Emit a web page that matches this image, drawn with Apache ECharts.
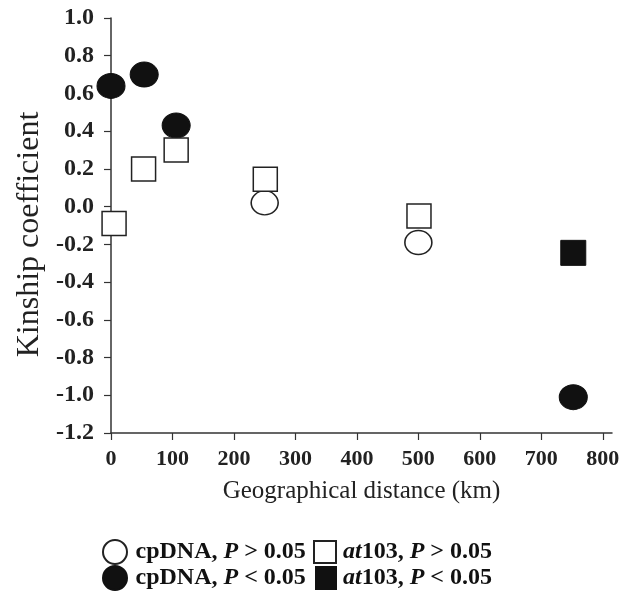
<!DOCTYPE html>
<html>
<head>
<meta charset="utf-8">
<script src="https://cdn.jsdelivr.net/npm/echarts@6/dist/echarts.min.js"></script>
<style>
  html, body { margin: 0; padding: 0; background: #fff; }
  #chart { width: 632px; height: 600px; }
</style>
</head>
<body>
<div id="chart"></div>
<script>
// cpDNA, not significant (open circles)
const cpOpenX = [250, 500]
const cpOpenY = [0.02, -0.19]
// cpDNA, significant (filled circles)
const cpFilledX = [0, 54, 106, 752]
const cpFilledY = [0.64, 0.70, 0.43, -1.01]
// at103, not significant (open squares)
const atOpenX = [5, 53, 106, 251, 501]
const atOpenY = [-0.09, 0.20, 0.30, 0.145, -0.05]
// at103, significant (filled square)
const atFilledX = [752]
const atFilledY = [-0.245]

const xTicks = [0, 100, 200, 300, 400, 500, 600, 700, 800]
const seriesNames = ['cpDNA, P > 0.05', 'cpDNA, P < 0.05', 'at103, P > 0.05', 'at103, P < 0.05']

const font = 'Liberation Serif'
const pair = (xs, ys) => xs.map((x, i) => [x, ys[i]])

// legend labels with italic P and at
const legendLabel = name => {
  const [gene, rest] = name.split(', P ')
  const g = gene === 'at103' ? '{i|at}{b|103, }' : '{b|cpDNA, }'
  return g + '{i|P}{b| ' + rest + '}'
}
const legendRich = {
  b: { fontFamily: font, fontWeight: 'bold', fontSize: 24, color: '#111' },
  i: { fontFamily: font, fontWeight: 'bold', fontStyle: 'italic', fontSize: 24, color: '#111' }
}
const makeLegend = (name, left, top, w, h) => ({
  data: [name],
  left: left,
  top: top,
  itemWidth: w,
  itemHeight: h,
  selectedMode: false,
  padding: 0,
  formatter: legendLabel,
  textStyle: { rich: legendRich, padding: [0, 0, 0, 2] }
})

const chart = echarts.init(document.getElementById('chart'))

const openStyle = { color: '#fff', borderColor: '#222', borderWidth: 1.5, opacity: 1 }
const filledStyle = { color: '#111', borderColor: '#111', borderWidth: 1, opacity: 1 }

chart.setOption({
  animation: false,
  grid: { left: 111, right: 20, top: 18, bottom: 167 },
  legend: [
    makeLegend(seriesNames[0], 102, 539, 27, 24),
    makeLegend(seriesNames[1], 102, 565, 27, 24),
    makeLegend(seriesNames[2], 313, 540, 22, 22),
    makeLegend(seriesNames[3], 315, 566, 20, 22)
  ],
  xAxis: {
    type: 'value',
    min: 0,
    max: 815,
    name: 'Geographical distance (km)',
    nameLocation: 'middle',
    nameGap: 46,
    nameTextStyle: { fontFamily: font, fontSize: 25, color: '#222' },
    axisLine: { show: true, onZero: false, lineStyle: { color: '#333', width: 1.5 } },
    axisTick: { show: true, length: 7, customValues: xTicks, lineStyle: { color: '#333', width: 1.2 } },
    axisLabel: {
      customValues: xTicks,
      margin: 15,
      fontFamily: font,
      fontWeight: 'bold',
      fontSize: 22,
      color: '#222'
    },
    splitLine: { show: false }
  },
  yAxis: {
    type: 'value',
    min: -1.2,
    max: 1.0,
    interval: 0.2,
    name: 'Kinship coefficient',
    nameLocation: 'middle',
    nameGap: 54,
    nameTextStyle: { fontFamily: font, fontSize: 32, color: '#222', padding: [0, 18, 0, 0] },
    axisLine: { show: true, onZero: false, lineStyle: { color: '#333', width: 1.5 } },
    axisTick: { show: true, length: 7, lineStyle: { color: '#333', width: 1.2 } },
    axisLabel: {
      margin: 17,
      fontFamily: font,
      fontWeight: 'bold',
      fontSize: 24,
      color: '#222',
      formatter: v => v.toFixed(1)
    },
    splitLine: { show: false }
  },
  series: [
    {
      name: seriesNames[0],
      type: 'scatter',
      symbol: 'circle',
      symbolSize: [27, 24],
      itemStyle: openStyle,
      clip: false,
      data: pair(cpOpenX, cpOpenY)
    },
    {
      name: seriesNames[1],
      type: 'scatter',
      symbol: 'circle',
      symbolSize: [28, 25],
      itemStyle: filledStyle,
      clip: false,
      data: pair(cpFilledX, cpFilledY)
    },
    {
      name: seriesNames[2],
      type: 'scatter',
      symbol: 'rect',
      symbolSize: [24, 24],
      itemStyle: openStyle,
      clip: false,
      data: pair(atOpenX, atOpenY)
    },
    {
      name: seriesNames[3],
      type: 'scatter',
      symbol: 'rect',
      symbolSize: [25, 25],
      itemStyle: filledStyle,
      clip: false,
      data: pair(atFilledX, atFilledY)
    }
  ]
})
</script>
</body>
</html>
